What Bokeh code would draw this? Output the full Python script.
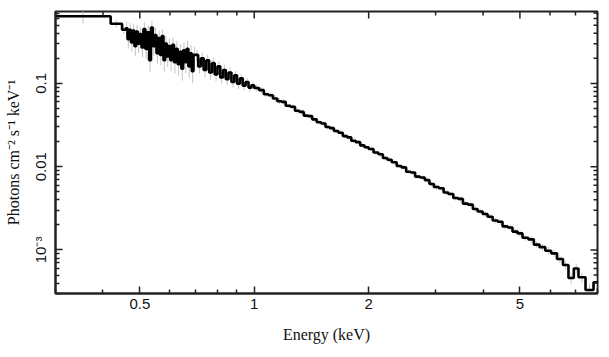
import math
from bokeh.plotting import figure
from bokeh.models import FixedTicker, ColumnDataSource, Range1d
from bokeh.embed import file_html
from bokeh.resources import INLINE

# ---- data (bin edges in keV, flux values, relative errors) ----
edges_a = [0.300, 0.419, 0.449, 0.459]
vals_a = [0.64, 0.52, 0.44]
errs_a = [0.18, 0.10, 0.10]

edges_b = [0.459, 0.464, 0.469, 0.474, 0.479, 0.484, 0.489, 0.494, 0.499, 0.505,
           0.511, 0.517, 0.523, 0.529, 0.535, 0.541, 0.547, 0.553, 0.559, 0.565,
           0.571, 0.577, 0.583, 0.589, 0.595, 0.601, 0.608, 0.615, 0.622, 0.629,
           0.636, 0.643, 0.650, 0.657, 0.664, 0.671, 0.678, 0.685, 0.692, 0.700]
vals_b = [0.46, 0.34, 0.44, 0.31, 0.43, 0.28, 0.42, 0.30, 0.39, 0.27,
          0.45, 0.26, 0.41, 0.19, 0.47, 0.28, 0.38, 0.23, 0.35, 0.22,
          0.37, 0.19, 0.30, 0.21, 0.28, 0.19, 0.29, 0.18, 0.26, 0.17,
          0.24, 0.15, 0.25, 0.18, 0.26, 0.16, 0.23, 0.14, 0.22]
errs_b = [0.20, 0.23, 0.20, 0.23, 0.20, 0.24, 0.20, 0.23, 0.21, 0.24,
          0.20, 0.25, 0.21, 0.28, 0.20, 0.23, 0.22, 0.25, 0.22, 0.25,
          0.21, 0.27, 0.23, 0.25, 0.24, 0.26, 0.23, 0.27, 0.24, 0.27,
          0.24, 0.28, 0.24, 0.26, 0.24, 0.27, 0.25, 0.28, 0.25]

edges_c = [0.700, 0.712, 0.724, 0.736, 0.748, 0.761, 0.774, 0.787, 0.800, 0.814,
           0.828, 0.842, 0.856, 0.871, 0.886, 0.901, 0.917, 0.933, 0.949, 0.966,
           0.983, 1.000]
vals_c = [0.22, 0.16, 0.20, 0.145, 0.19, 0.135, 0.175, 0.128, 0.16, 0.118,
          0.145, 0.112, 0.135, 0.104, 0.125, 0.099, 0.115, 0.094, 0.104, 0.089,
          0.095]
errs_c = [0.16, 0.18, 0.17, 0.18, 0.17, 0.18, 0.16, 0.17, 0.16, 0.16,
          0.15, 0.15, 0.14, 0.14, 0.13, 0.13, 0.12, 0.12, 0.11, 0.11, 0.10]

edges_d = [1.000, 1.030, 1.060, 1.090, 1.120, 1.150, 1.180, 1.210, 1.245, 1.280,
           1.315, 1.350, 1.385, 1.420, 1.460, 1.500, 1.540, 1.580, 1.620, 1.665,
           1.710, 1.755, 1.800, 1.850, 1.900, 1.950, 2.000]
vals_d = [0.088, 0.083, 0.074, 0.072, 0.066, 0.061, 0.060, 0.054, 0.0525, 0.047,
          0.0455, 0.041, 0.0405, 0.0370, 0.0342, 0.0330, 0.0300, 0.0290, 0.0268, 0.0256,
          0.0233, 0.0225, 0.0205, 0.0197, 0.0180, 0.0171]
errs_d = [0.09, 0.09, 0.08, 0.08, 0.08, 0.08, 0.07, 0.07, 0.07, 0.07,
          0.07, 0.07, 0.06, 0.06, 0.06, 0.06, 0.06, 0.06, 0.06, 0.06,
          0.06, 0.06, 0.06, 0.06, 0.06, 0.06]

edges_e = [2.00, 2.06, 2.12, 2.18, 2.24, 2.30, 2.37, 2.44, 2.51, 2.58,
           2.65, 2.73, 2.81, 2.89, 2.97, 3.06, 3.15, 3.24, 3.34, 3.44,
           3.54, 3.65, 3.76, 3.87, 3.99, 4.11, 4.24, 4.37, 4.50, 4.64,
           4.78, 4.93, 5.08]
vals_e = [0.0163, 0.0148, 0.0141, 0.0127, 0.0121, 0.0113, 0.0102, 0.0098, 0.0087, 0.0085,
          0.0076, 0.0074, 0.0069, 0.0062, 0.0057, 0.0055, 0.0049, 0.0047, 0.0042, 0.0041,
          0.0036, 0.0035, 0.0031, 0.0029, 0.0027, 0.0025, 0.00226, 0.00218, 0.00192, 0.00186,
          0.00166, 0.00158]
errs_e = [0.06, 0.06, 0.06, 0.06, 0.06, 0.06, 0.06, 0.06, 0.06, 0.06,
          0.06, 0.06, 0.07, 0.07, 0.07, 0.07, 0.07, 0.07, 0.07, 0.07,
          0.07, 0.07, 0.07, 0.07, 0.08, 0.08, 0.08, 0.08, 0.08, 0.08,
          0.08, 0.08]

edges_f = [5.08, 5.26, 5.44, 5.63, 5.83, 6.04, 6.26, 6.49, 6.71, 6.93, 7.13, 7.44, 7.81, 8.10]
vals_f = [0.00140, 0.00134, 0.00116, 0.00108, 0.00098, 0.00091, 0.00078, 0.00066,
          0.00046, 0.00060, 0.00047, 0.00033, 0.00041]
errs_f = [0.08, 0.09, 0.09, 0.10, 0.10, 0.11, 0.11, 0.12, 0.14, 0.13, 0.14, 0.16, 0.15]

x_lim = [0.3, 8.0]
y_lim = [3.0e-4, 0.73]
x_major = [0.5, 1, 2, 5]
x_minor = [0.3, 0.4, 0.6, 0.7, 0.8, 0.9, 3, 4, 6, 7, 8]
x_labels = {0.5: "0.5", 1: "1", 2: "2", 5: "5"}
y_major = [0.001, 0.01, 0.1]
y_minor = [0.0003, 0.0004, 0.0005, 0.0006, 0.0007, 0.0008, 0.0009,
           0.002, 0.003, 0.004, 0.005, 0.006, 0.007, 0.008, 0.009,
           0.02, 0.03, 0.04, 0.05, 0.06, 0.07, 0.08, 0.09,
           0.2, 0.3, 0.4, 0.5, 0.6, 0.7]
y_labels = {0.001: "10\u207b\u00b3", 0.01: "0.01", 0.1: "0.1"}

# ---- assemble ----
edges = edges_a + edges_b[1:] + edges_c[1:] + edges_d[1:] + edges_e[1:] + edges_f[1:]
vals = vals_a + vals_b + vals_c + vals_d + vals_e + vals_f
errs = errs_a + errs_b + errs_c + errs_d + errs_e + errs_f

centers = [(edges[i] * edges[i + 1]) ** 0.5 for i in range(len(vals))]
lo = [v * (1 - e) for v, e in zip(vals, errs)]
hi = [v * (1 + e) for v, e in zip(vals, errs)]

err_src = ColumnDataSource(dict(x=centers, lo=lo, hi=hi))
step_src = ColumnDataSource(dict(x=edges, y=vals + [vals[-1]]))

p = figure(width=609, height=357, x_axis_type="log", y_axis_type="log",
           x_range=Range1d(*x_lim), y_range=Range1d(*y_lim),
           output_backend="svg", toolbar_location=None,
           min_border_left=55, min_border_right=12, min_border_top=11, min_border_bottom=64)
p.background_fill_color = "white"
p.border_fill_color = "white"
p.xgrid.visible = False
p.ygrid.visible = False
p.outline_line_color = "#222222"
p.outline_line_width = 2

p.segment(x0="x", y0="lo", x1="x", y1="hi", source=err_src, line_color="#c4c4c4", line_width=1)
p.step(x="x", y="y", source=step_src, mode="after", line_color="black", line_width=2.6)

# inward ticks on the top and right frame edges (half of each dash is clipped by the frame)
TICK_COL = "#222222"
p.scatter(x=x_major, y=[y_lim[1]] * len(x_major), marker="dash", angle=math.pi / 2,
          size=14, line_color=TICK_COL, line_width=1.5)
p.scatter(x=x_minor, y=[y_lim[1]] * len(x_minor), marker="dash", angle=math.pi / 2,
          size=8, line_color=TICK_COL, line_width=1.5)
p.scatter(x=[x_lim[1]] * len(y_major), y=y_major, marker="dash",
          size=14, line_color=TICK_COL, line_width=1.5)
p.scatter(x=[x_lim[1]] * len(y_minor), y=y_minor, marker="dash",
          size=8, line_color=TICK_COL, line_width=1.5)

TICK_FONT = "Liberation Sans"
LABEL_FONT = "Liberation Serif"


def style_axis(ax):
    ax.axis_line_color = TICK_COL
    ax.axis_line_width = 2
    ax.major_tick_line_color = TICK_COL
    ax.minor_tick_line_color = TICK_COL
    ax.major_tick_line_width = 1.5
    ax.minor_tick_line_width = 1.5
    ax.major_tick_in = 7
    ax.major_tick_out = 0
    ax.minor_tick_in = 4
    ax.minor_tick_out = 0
    ax.major_label_text_font = TICK_FONT
    ax.major_label_text_font_size = "15px"
    ax.major_label_text_color = "#111111"
    ax.axis_label_text_font = LABEL_FONT
    ax.axis_label_text_font_size = "16px"
    ax.axis_label_text_font_style = "normal"
    ax.axis_label_text_color = "#111111"


xa = p.xaxis[0]
xa.ticker = FixedTicker(ticks=x_major, minor_ticks=x_minor)
xa.major_label_overrides = x_labels
xa.axis_label = "Energy (keV)"
style_axis(xa)
xa.major_label_standoff = 5
xa.axis_label_standoff = 14

ya = p.yaxis[0]
ya.ticker = FixedTicker(ticks=y_major, minor_ticks=y_minor)
ya.major_label_overrides = y_labels
ya.major_label_orientation = "vertical"
ya.axis_label = "Photons cm\u207b\u00b2 s\u207b\u00b9 keV\u207b\u00b9"
style_axis(ya)
ya.major_label_standoff = 6
ya.axis_label_standoff = 8

open("out.html", "w").write(file_html(p, INLINE))
